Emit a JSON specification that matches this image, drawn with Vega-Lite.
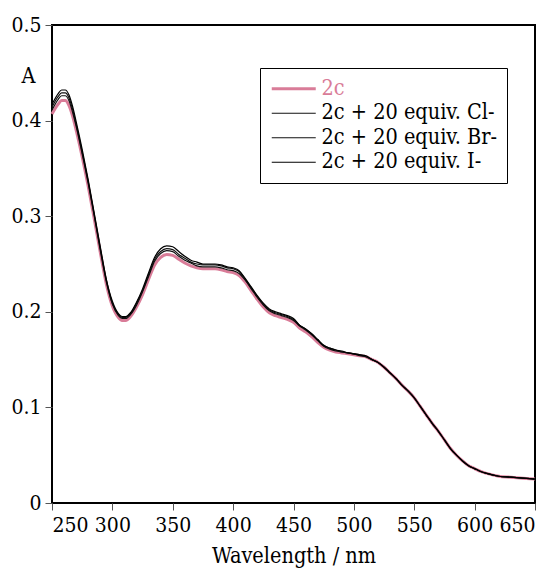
{
  "$schema": "https://vega.github.io/schema/vega-lite/v6.json",
  "autosize": "none",
  "padding": {"left": 52, "top": 25, "right": 21, "bottom": 73},
  "width": 483,
  "height": 478,
  "config": {
    "font": "DejaVu Serif Condensed",
    "view": {"stroke": "black", "strokeWidth": 2},
    "axisX": {
      "domain": false,
      "grid": false,
      "labelFont": "DejaVu Serif Condensed",
      "labelFontSize": 21,
      "labelColor": "black",
      "labelOverlap": false,
      "labelBound": false,
      "titleFont": "DejaVu Serif Condensed",
      "titleFontSize": 21.5,
      "titleFontWeight": "normal",
      "titleColor": "black",
      "tickColor": "#555555",
      "tickWidth": 1,
      "tickSize": 7
    },
    "axisY": {
      "domain": false,
      "grid": false,
      "labelFont": "DejaVu Serif Condensed",
      "labelFontSize": 21,
      "labelColor": "black",
      "labelOverlap": false,
      "labelBound": false,
      "titleFont": "DejaVu Serif Condensed",
      "titleFontSize": 21.5,
      "titleFontWeight": "normal",
      "titleColor": "black",
      "tickColor": "#555555",
      "tickWidth": 1,
      "tickSize": 7
    },
    "legend": {
      "labelFont": "DejaVu Serif Condensed",
      "labelFontSize": 21.5,
      "labelColor": "black",
      "labelLimit": 400
    }
  },
  "data": {
    "values": [
      {"w": 250, "2c": 0.407, "Cl": 0.411, "Br": 0.414, "I": 0.417},
      {"w": 255, "2c": 0.417, "Cl": 0.422, "Br": 0.425, "I": 0.428},
      {"w": 258, "2c": 0.421, "Cl": 0.426, "Br": 0.429, "I": 0.432},
      {"w": 261, "2c": 0.421, "Cl": 0.426, "Br": 0.429, "I": 0.432},
      {"w": 264, "2c": 0.416, "Cl": 0.421, "Br": 0.424, "I": 0.427},
      {"w": 267, "2c": 0.405, "Cl": 0.409, "Br": 0.412, "I": 0.415},
      {"w": 270, "2c": 0.390, "Cl": 0.394, "Br": 0.396, "I": 0.399},
      {"w": 275, "2c": 0.362, "Cl": 0.365, "Br": 0.367, "I": 0.370},
      {"w": 280, "2c": 0.331, "Cl": 0.334, "Br": 0.336, "I": 0.338},
      {"w": 285, "2c": 0.297, "Cl": 0.300, "Br": 0.301, "I": 0.303},
      {"w": 290, "2c": 0.262, "Cl": 0.264, "Br": 0.266, "I": 0.268},
      {"w": 295, "2c": 0.229, "Cl": 0.231, "Br": 0.233, "I": 0.234},
      {"w": 300, "2c": 0.206, "Cl": 0.208, "Br": 0.209, "I": 0.211},
      {"w": 305, "2c": 0.194, "Cl": 0.196, "Br": 0.197, "I": 0.198},
      {"w": 308, "2c": 0.191, "Cl": 0.193, "Br": 0.194, "I": 0.195},
      {"w": 311, "2c": 0.191, "Cl": 0.193, "Br": 0.194, "I": 0.195},
      {"w": 315, "2c": 0.195, "Cl": 0.197, "Br": 0.198, "I": 0.199},
      {"w": 320, "2c": 0.205, "Cl": 0.207, "Br": 0.209, "I": 0.210},
      {"w": 325, "2c": 0.218, "Cl": 0.221, "Br": 0.222, "I": 0.224},
      {"w": 330, "2c": 0.234, "Cl": 0.237, "Br": 0.239, "I": 0.241},
      {"w": 335, "2c": 0.249, "Cl": 0.253, "Br": 0.255, "I": 0.257},
      {"w": 340, "2c": 0.257, "Cl": 0.261, "Br": 0.263, "I": 0.266},
      {"w": 345, "2c": 0.260, "Cl": 0.264, "Br": 0.266, "I": 0.269},
      {"w": 350, "2c": 0.259, "Cl": 0.263, "Br": 0.265, "I": 0.268},
      {"w": 355, "2c": 0.255, "Cl": 0.258, "Br": 0.260, "I": 0.263},
      {"w": 360, "2c": 0.251, "Cl": 0.254, "Br": 0.256, "I": 0.258},
      {"w": 365, "2c": 0.248, "Cl": 0.251, "Br": 0.252, "I": 0.254},
      {"w": 370, "2c": 0.246, "Cl": 0.248, "Br": 0.250, "I": 0.252},
      {"w": 375, "2c": 0.245, "Cl": 0.247, "Br": 0.249, "I": 0.250},
      {"w": 380, "2c": 0.245, "Cl": 0.247, "Br": 0.249, "I": 0.250},
      {"w": 385, "2c": 0.245, "Cl": 0.247, "Br": 0.249, "I": 0.250},
      {"w": 390, "2c": 0.244, "Cl": 0.246, "Br": 0.248, "I": 0.249},
      {"w": 395, "2c": 0.242, "Cl": 0.244, "Br": 0.246, "I": 0.247},
      {"w": 400, "2c": 0.241, "Cl": 0.243, "Br": 0.245, "I": 0.246},
      {"w": 405, "2c": 0.238, "Cl": 0.240, "Br": 0.242, "I": 0.243},
      {"w": 410, "2c": 0.231, "Cl": 0.233, "Br": 0.234, "I": 0.235},
      {"w": 415, "2c": 0.222, "Cl": 0.224, "Br": 0.225, "I": 0.226},
      {"w": 420, "2c": 0.213, "Cl": 0.215, "Br": 0.216, "I": 0.217},
      {"w": 425, "2c": 0.205, "Cl": 0.207, "Br": 0.208, "I": 0.209},
      {"w": 430, "2c": 0.199, "Cl": 0.201, "Br": 0.202, "I": 0.203},
      {"w": 435, "2c": 0.196, "Cl": 0.198, "Br": 0.199, "I": 0.200},
      {"w": 440, "2c": 0.194, "Cl": 0.196, "Br": 0.197, "I": 0.198},
      {"w": 445, "2c": 0.192, "Cl": 0.194, "Br": 0.195, "I": 0.196},
      {"w": 450, "2c": 0.189, "Cl": 0.191, "Br": 0.192, "I": 0.193},
      {"w": 455, "2c": 0.183, "Cl": 0.185, "Br": 0.186, "I": 0.186},
      {"w": 460, "2c": 0.179, "Cl": 0.181, "Br": 0.182, "I": 0.182},
      {"w": 465, "2c": 0.174, "Cl": 0.176, "Br": 0.177, "I": 0.177},
      {"w": 470, "2c": 0.168, "Cl": 0.170, "Br": 0.171, "I": 0.171},
      {"w": 475, "2c": 0.163, "Cl": 0.164, "Br": 0.165, "I": 0.165},
      {"w": 480, "2c": 0.160, "Cl": 0.161, "Br": 0.162, "I": 0.162},
      {"w": 485, "2c": 0.158, "Cl": 0.159, "Br": 0.160, "I": 0.160},
      {"w": 490, "2c": 0.157, "Cl": 0.158, "Br": 0.158, "I": 0.159},
      {"w": 495, "2c": 0.156, "Cl": 0.157, "Br": 0.157, "I": 0.157},
      {"w": 500, "2c": 0.155, "Cl": 0.156, "Br": 0.156, "I": 0.156},
      {"w": 505, "2c": 0.154, "Cl": 0.154, "Br": 0.155, "I": 0.155},
      {"w": 510, "2c": 0.153, "Cl": 0.153, "Br": 0.153, "I": 0.154},
      {"w": 515, "2c": 0.150, "Cl": 0.150, "Br": 0.150, "I": 0.150},
      {"w": 520, "2c": 0.147, "Cl": 0.147, "Br": 0.147, "I": 0.147},
      {"w": 525, "2c": 0.142, "Cl": 0.142, "Br": 0.142, "I": 0.142},
      {"w": 530, "2c": 0.136, "Cl": 0.136, "Br": 0.136, "I": 0.136},
      {"w": 535, "2c": 0.130, "Cl": 0.130, "Br": 0.130, "I": 0.130},
      {"w": 540, "2c": 0.123, "Cl": 0.123, "Br": 0.123, "I": 0.123},
      {"w": 545, "2c": 0.117, "Cl": 0.117, "Br": 0.117, "I": 0.117},
      {"w": 550, "2c": 0.110, "Cl": 0.110, "Br": 0.110, "I": 0.110},
      {"w": 555, "2c": 0.101, "Cl": 0.101, "Br": 0.101, "I": 0.101},
      {"w": 560, "2c": 0.092, "Cl": 0.092, "Br": 0.092, "I": 0.092},
      {"w": 565, "2c": 0.083, "Cl": 0.083, "Br": 0.083, "I": 0.083},
      {"w": 570, "2c": 0.075, "Cl": 0.075, "Br": 0.075, "I": 0.075},
      {"w": 575, "2c": 0.066, "Cl": 0.066, "Br": 0.066, "I": 0.066},
      {"w": 580, "2c": 0.057, "Cl": 0.057, "Br": 0.057, "I": 0.057},
      {"w": 585, "2c": 0.050, "Cl": 0.050, "Br": 0.050, "I": 0.050},
      {"w": 590, "2c": 0.044, "Cl": 0.044, "Br": 0.044, "I": 0.044},
      {"w": 595, "2c": 0.039, "Cl": 0.039, "Br": 0.039, "I": 0.039},
      {"w": 600, "2c": 0.036, "Cl": 0.036, "Br": 0.036, "I": 0.036},
      {"w": 605, "2c": 0.033, "Cl": 0.033, "Br": 0.033, "I": 0.033},
      {"w": 610, "2c": 0.031, "Cl": 0.031, "Br": 0.031, "I": 0.031},
      {"w": 620, "2c": 0.028, "Cl": 0.028, "Br": 0.028, "I": 0.028},
      {"w": 630, "2c": 0.027, "Cl": 0.027, "Br": 0.027, "I": 0.027},
      {"w": 640, "2c": 0.026, "Cl": 0.026, "Br": 0.026, "I": 0.026},
      {"w": 650, "2c": 0.025, "Cl": 0.025, "Br": 0.025, "I": 0.025}
    ]
  },
  "transform": [
    {"fold": ["2c", "Cl", "Br", "I"], "as": ["series", "A"]}
  ],
  "encoding": {
    "x": {
      "field": "w",
      "type": "quantitative",
      "scale": {"domain": [250, 650], "nice": false},
      "axis": {
        "values": [250, 300, 350, 400, 450, 500, 550, 600, 650],
        "title": "Wavelength / nm",
        "labelPadding": 4,
        "titlePadding": 10
      }
    },
    "y": {
      "field": "A",
      "type": "quantitative",
      "scale": {"domain": [0, 0.5], "nice": false},
      "axis": {
        "values": [0, 0.1, 0.2, 0.3, 0.4, 0.5],
        "labelExpr": "datum.value == 0 ? '0' : format(datum.value, '.1f')",
        "labelPadding": 4,
        "title": "A",
        "titleAngle": 0,
        "titleX": -24,
        "titleY": 51,
        "titleAlign": "center",
        "titleBaseline": "middle"
      }
    },
    "color": {
      "field": "series",
      "type": "nominal",
      "scale": {
        "domain": ["2c", "Cl", "Br", "I"],
        "range": ["#d97c98", "#111111", "#111111", "#000000"]
      },
      "legend": {
        "title": null,
        "orient": "none",
        "legendX": 208,
        "legendY": 43,
        "symbolType": "stroke",
        "symbolSize": 1936,
        "symbolStrokeWidth": 1.2,
        "symbolOffset": 13,
        "labelOffset": 17,
        "rowPadding": 1.5,
        "padding": 10,
        "strokeColor": "black",
        "fillColor": "white",
        "labelExpr": "datum.label == '2c' ? '2c' : '2c + 20 equiv. ' + datum.label + '-'",
        "encode": {
          "symbols": {
            "update": {
              "strokeWidth": {"signal": "datum.value == '2c' ? 3 : 1.2"}
            }
          },
          "labels": {
            "update": {
              "fill": {"signal": "datum.value == '2c' ? '#d97c98' : 'black'"}
            }
          }
        }
      }
    }
  },
  "layer": [
    {
      "transform": [{"filter": "datum.series == '2c'"}],
      "mark": {"type": "line", "strokeWidth": 3, "interpolate": "monotone"}
    },
    {
      "transform": [{"filter": "datum.series != '2c'"}],
      "mark": {"type": "line", "strokeWidth": 1.2, "interpolate": "monotone"}
    }
  ]
}
